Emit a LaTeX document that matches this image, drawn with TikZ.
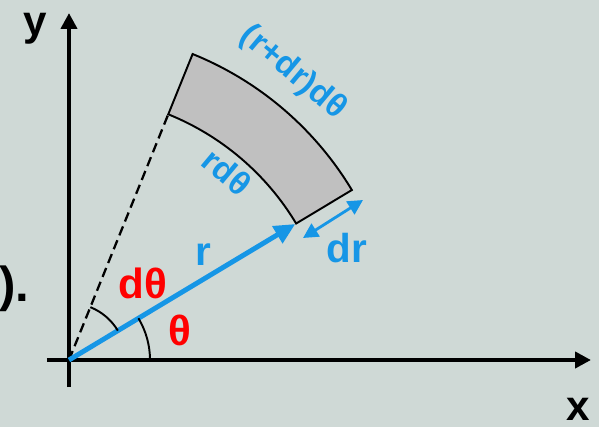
\documentclass[tikz,border=0pt]{standalone}
\usepackage{fontspec}
\setmainfont{Liberation Sans}
\usetikzlibrary{arrows.meta, positioning}

\definecolor{bgcol}{RGB}{207,217,214}
\definecolor{vecblue}{RGB}{22,150,230}
\definecolor{sectorgray}{RGB}{192,192,192}

\begin{document}
\begin{tikzpicture}[
  every node/.style={font=\bfseries},
  axis/.style={line width=2.6pt, -{Triangle[length=0.32cm, width=0.32cm]}},
  vector/.style={line width=2.8pt, vecblue, -{Triangle[length=0.42cm, width=0.38cm]}},
  drarrow/.style={line width=1.6pt, vecblue, {Triangle[length=0.3cm, width=0.3cm]}-{Triangle[length=0.3cm, width=0.3cm]}},
  anglearc/.style={line width=1.1pt, black},
  axislabel/.style={font=\fontsize{24}{28}\selectfont\bfseries},
  redlabel/.style={red, font=\fontsize{24}{28}\selectfont\bfseries},
  bluelabel/.style={vecblue, font=\fontsize{23}{27}\selectfont\bfseries},
  arclabel/.style={vecblue, font=\fontsize{19}{23}\selectfont\bfseries},
]

% Background and frame
\fill[bgcol] (-1.38,-1.34) rectangle (10.6,7.2);
\useasboundingbox (-1.38,-1.34) rectangle (10.6,7.2);

% Axes
\coordinate (O) at (0,0);
\coordinate (xstart) at (-0.44,0);
\coordinate (xend) at (10.44,0);
\coordinate (ystart) at (0,-0.54);
\coordinate (yend) at (0,6.94);
\draw[axis] (xstart) -- (xend);
\draw[axis] (ystart) -- (yend);
\node[axislabel] (lblx) at (10.18,-0.98) {x};
\node[axislabel] (lbly) at (-0.68,6.62) {y};
\node[font=\fontsize{28}{32}\selectfont\bfseries, anchor=east, inner sep=0pt] (lblpunct) at (-0.78,1.42) {).};

% Area element
\draw[line width=1.1pt, fill=sectorgray] (31:5.3) arc (31:68:5.3) -- (68:6.6) arc (68:31:6.6) -- cycle;

% Radial lines
\coordinate (rinner) at (31:5.28);
\coordinate (dtip) at (68:5.3);
\draw[line width=1.3pt, dash pattern=on 5.5pt off 3pt] (O) -- (dtip);
\draw[vector] (O) -- (rinner);

% Angle arcs
\draw[anglearc] (1.62,0) arc (0:31:1.62);
\draw[anglearc] (31:1.14) arc (31:68:1.14);
\node[redlabel] (lbltheta) at (2.22,0.6) {θ};
\node[redlabel] (lbldtheta) at (1.48,1.54) {dθ};

% Labels on the vector and the element
\node[bluelabel] (lblr) at (2.68,2.1) {r};
\coordinate (dra) at (4.68,2.44);
\coordinate (drb) at (5.88,3.2);
\draw[drarrow] (dra) -- (drb);
\node[bluelabel] (lbldr) at (5.56,2.24) {dr};
\node[arclabel, rotate=-40] (lblrdtheta) at (3.16,3.76) {rdθ};
\node[arclabel, rotate=-40] (lblouter) at (4.48,5.74) {(r+dr)dθ};

\end{tikzpicture}
\end{document}
